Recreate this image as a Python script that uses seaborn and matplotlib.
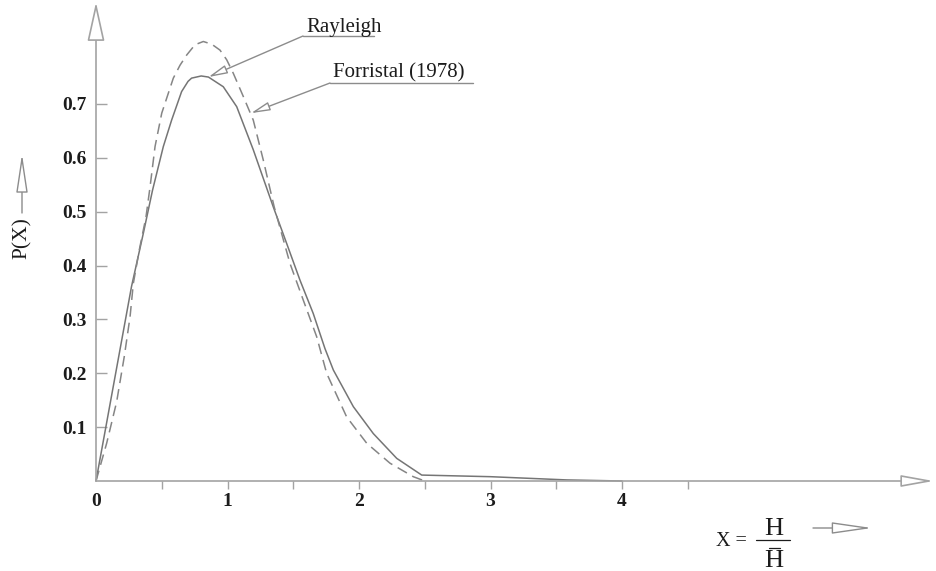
import matplotlib
matplotlib.use("Agg")
import matplotlib.pyplot as plt
import seaborn as sns
import pandas as pd

# ---------------- data ----------------
forristal_x = [0.0, 0.27, 0.36, 0.43, 0.512, 0.575, 0.651, 0.70, 0.727, 0.80, 0.855,
               0.968, 1.07, 1.196, 1.348, 1.45, 1.551, 1.652, 1.741, 1.805,
               1.957, 2.109, 2.287, 2.477, 3.0, 3.58, 4.0]
forristal_y = [0.0, 0.361, 0.46, 0.54, 0.621, 0.67, 0.723, 0.742, 0.748, 0.752, 0.750,
               0.732, 0.695, 0.615, 0.509, 0.441, 0.373, 0.311, 0.246, 0.206,
               0.138, 0.088, 0.042, 0.011, 0.008, 0.002, 0.0]

rayleigh_x = [0.0, 0.081, 0.157, 0.215, 0.259, 0.284, 0.33, 0.38, 0.411, 0.449,
              0.50, 0.588, 0.639, 0.69, 0.753, 0.816, 0.88, 0.943, 0.994, 1.044,
              1.12, 1.196, 1.272, 1.355, 1.475, 1.576, 1.678, 1.754, 1.906, 2.059,
              2.236, 2.413, 2.50]
rayleigh_y = [0.0, 0.070, 0.147, 0.231, 0.305, 0.367, 0.43, 0.49, 0.546, 0.621,
              0.683, 0.748, 0.772, 0.791, 0.810, 0.816, 0.811, 0.800, 0.782, 0.757,
              0.714, 0.670, 0.596, 0.509, 0.404, 0.336, 0.268, 0.200, 0.119, 0.070,
              0.033, 0.008, 0.0]

x_major_ticks = [0, 1, 2, 3, 4]
x_major_labels = ["0", "1", "2", "3", "4"]
x_minor_ticks = [0.5, 1.5, 2.5, 3.5, 4.5]
y_ticks = [0.1, 0.2, 0.3, 0.4, 0.5, 0.6, 0.7]
y_tick_labels = ["0.1", "0.2", "0.3", "0.4", "0.5", "0.6", "0.7"]

label_rayleigh = "Rayleigh"
label_forristal = "Forristal (1978)"
y_label = "P(X)"

# ---------------- style ----------------
sns.set_theme(style="white")
plt.rcParams["font.family"] = ["Liberation Serif", "DejaVu Serif"]

AXIS = "#a3a3a3"
CURVE = "#757575"
DASH = "#858585"
LEAD = "#8c8c8c"
TEXT = "#1c1c1c"

W, H = 936, 571
def px(x, y):
    return (x / W, 1 - y / H)

fig = plt.figure(figsize=(W / 100, H / 100), dpi=100)
ax = fig.add_axes([0, 0, 1, 1])
ax.set_facecolor("white")
ax.grid(False)

df_f = pd.DataFrame({"x": forristal_x, "p": forristal_y})
df_r = pd.DataFrame({"x": rayleigh_x, "p": rayleigh_y})
sns.lineplot(data=df_f, x="x", y="p", ax=ax, color=CURVE, lw=1.1)
sns.lineplot(data=df_r, x="x", y="p", ax=ax, color=DASH, lw=1.1,
             linestyle=(0, (7, 4)))

ax.set_xlim(-96 / 131.5, 840 / 131.5)
ax.set_ylim(-90 / 538.6, 481 / 538.6)
ax.set_xlabel("")
ax.set_ylabel("")

for s in ax.spines.values():
    s.set_visible(False)
ax.spines["left"].set_position(("data", 0))
ax.spines["bottom"].set_position(("data", 0))

ax.set_xticks(x_major_ticks)
ax.set_xticklabels(x_major_labels, fontweight="bold")
ax.set_xticks(x_minor_ticks, minor=True)
ax.set_yticks(y_ticks)
ax.set_yticklabels(y_tick_labels, fontweight="bold")
ax.tick_params(axis="x", which="both", bottom=True, top=False, direction="out",
               length=5.8, width=1, color=AXIS, pad=3, labelsize=14,
               labelcolor=TEXT)
ax.tick_params(axis="y", which="both", left=True, right=False, direction="in",
               length=7.9, width=1, color=AXIS, pad=6.5, labelsize=14,
               labelcolor=TEXT)
ax.xaxis.get_major_ticks()[0].tick1line.set_visible(False)

# axis lines with hollow arrow heads
ax.annotate("", xy=(0, 0.889), xytext=(0, 0),
            arrowprops=dict(arrowstyle="-|>,head_length=2.45,head_width=0.54",
                            fc="white", ec=AXIS, lw=1.2, shrinkA=0, shrinkB=0,
                            mutation_scale=10), annotation_clip=False)
ax.annotate("", xy=(6.37, 0), xytext=(0, 0),
            arrowprops=dict(arrowstyle="-|>,head_length=2.0,head_width=0.36",
                            fc="white", ec=AXIS, lw=1.2, shrinkA=0, shrinkB=0,
                            mutation_scale=10), annotation_clip=False)

# leader annotations
lead_arrow = dict(arrowstyle="-|>,head_length=1.15,head_width=0.26",
                  fc="white", ec=LEAD, lw=1.0, shrinkA=0, shrinkB=0,
                  mutation_scale=10)
ax.text(*px(306, 31.7), label_rayleigh, transform=ax.transAxes, ha="left",
        va="baseline", fontsize=15, color=TEXT)
ax.plot([303 / W, 374 / W], [1 - 36 / H] * 2, transform=ax.transAxes,
        color=LEAD, lw=1.0)
ax.annotate("", xy=(forristal_x[10], forristal_y[10]), xycoords="data",
            xytext=px(303, 36), textcoords="axes fraction",
            arrowprops=lead_arrow)

ax.text(*px(333, 77.3), label_forristal, transform=ax.transAxes, ha="left",
        va="baseline", fontsize=15, color=TEXT)
ax.plot([330 / W, 473 / W], [1 - 83 / H] * 2, transform=ax.transAxes,
        color=LEAD, lw=1.0)
ax.annotate("", xy=(1.179, 0.683), xycoords="data",
            xytext=px(330, 83), textcoords="axes fraction",
            arrowprops=lead_arrow)

# y label with arrow
ax.text(*px(22, 238), y_label, transform=ax.transAxes, rotation=90,
        ha="center", va="center", fontsize=15.5, color=TEXT)
ax.annotate("", xy=px(22, 154), xycoords="axes fraction",
            xytext=px(22, 213), textcoords="axes fraction",
            arrowprops=dict(arrowstyle="-|>,head_length=2.4,head_width=0.36",
                            fc="white", ec=LEAD, lw=1.0, shrinkA=0, shrinkB=0,
                            mutation_scale=10))

# x label: X = H / H-bar with arrow
ax.text(*px(731, 541), "X =", transform=ax.transAxes, ha="center",
        va="center", fontsize=14.5, color=TEXT)
ax.text(*px(774, 529), "H", transform=ax.transAxes, ha="center",
        va="center", fontsize=19, color=TEXT)
ax.plot([756 / W, 790 / W], [1 - 540 / H] * 2, transform=ax.transAxes,
        color=TEXT, lw=0.9)
ax.plot([769 / W, 780 / W], [1 - 548 / H] * 2, transform=ax.transAxes,
        color=TEXT, lw=0.9)
ax.text(*px(774, 561), "H", transform=ax.transAxes, ha="center",
        va="center", fontsize=19, color=TEXT)
ax.annotate("", xy=px(872, 528), xycoords="axes fraction",
            xytext=px(813, 528), textcoords="axes fraction",
            arrowprops=dict(arrowstyle="-|>,head_length=2.5,head_width=0.36",
                            fc="white", ec=LEAD, lw=1.0, shrinkA=0, shrinkB=0,
                            mutation_scale=10))

fig.savefig("out.png", dpi=100, facecolor="white")
